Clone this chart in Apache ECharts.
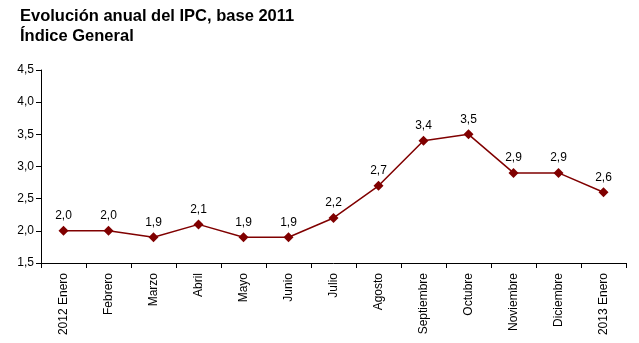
<!DOCTYPE html>
<html><head><meta charset="utf-8">
<script src="https://cdn.jsdelivr.net/npm/echarts@6/dist/echarts.min.js"></script>
<style>html,body{margin:0;padding:0;background:#fff}#c{width:639px;height:343px}</style>
</head><body><div id="c"></div>
<script>
const categories = ["2012 Enero","Febrero","Marzo","Abril","Mayo","Junio","Julio","Agosto","Septiembre","Octubre","Noviembre","Diciembre","2013 Enero"];
const values = [2.0,2.0,1.9,2.1,1.9,1.9,2.2,2.7,3.4,3.5,2.9,2.9,2.6];
const titleLines = ["Evolución anual del IPC, base 2011","Índice General"];
const fmt = v => v.toFixed(1).replace('.', ',');
const chart = echarts.init(document.getElementById('c'), null, {renderer:'canvas'});
chart.setOption({
  animation:false,
  textStyle:{fontFamily:'Liberation Sans, Arial, sans-serif'},
  title:{text:titleLines.join('\n'),left:15,top:1,textStyle:{fontSize:16.5,fontWeight:'bold',color:'#000',lineHeight:20,fontFamily:'Liberation Sans, Arial, sans-serif'}},
  grid:{left:41,right:13,top:70,bottom:80,containLabel:false},
  xAxis:{type:'category',data:categories,boundaryGap:true,
    axisLine:{lineStyle:{color:'#000',width:1}},
    axisTick:{show:true,length:5,inside:false,lineStyle:{color:'#000'}},
    axisLabel:{rotate:90,interval:0,fontSize:12,color:'#000',margin:10}},
  yAxis:{type:'value',min:1.5,max:4.5,interval:0.5,
    axisLine:{show:true,lineStyle:{color:'#000',width:1}},
    axisTick:{show:true,length:5,lineStyle:{color:'#000'}},
    splitLine:{show:false},
    axisLabel:{formatter:v=>fmt(v),fontSize:12,color:'#000',margin:7}},
  series:[{type:'line',data:values,symbol:'diamond',symbolSize:10,
    lineStyle:{color:'#800000',width:1.5},itemStyle:{color:'#800000'},
    label:{show:true,position:'top',distance:4,fontSize:12,color:'#000',formatter:p=>fmt(p.value)}}]
});
</script></body></html>
